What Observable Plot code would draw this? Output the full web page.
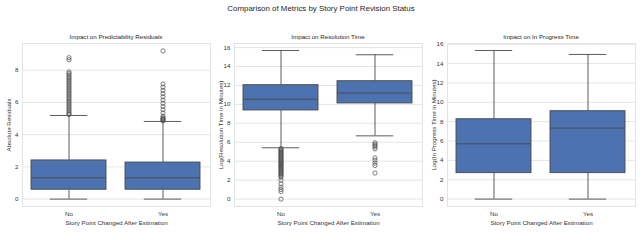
<!DOCTYPE html>
<html>
<head>
<meta charset="utf-8">
<script src="https://cdn.jsdelivr.net/npm/d3@7"></script>
<script src="https://cdn.jsdelivr.net/npm/@observablehq/plot@0.6"></script>
<style>
  html, body { margin: 0; padding: 0; background: #fff; }
  #wrap { position: relative; width: 642px; height: 240px; overflow: hidden; font-family: "Liberation Sans", Arial, sans-serif; color: #262626; }
  .title { position: absolute; top: 4px; left: 0; width: 642px; text-align: center; font-size: 7.9px; }
  .sub { position: absolute; top: 33px; text-align: center; font-size: 6.2px; }
  .panel { position: absolute; top: 0; }
</style>
</head>
<body>
<div id="wrap">
  <div class="title">Comparison of Metrics by Story Point Revision Status</div>
</div>
<script>
const categories = ["No", "Yes"];
const panelTitles = ["Impact on Predictability Residuals", "Impact on Resolution Time", "Impact on In Progress Time"];
const yLabels = ["Absolute Residuals", "Log(Resolution Time in Minutes)", "Log(In Progress Time in Minutes)"];
const xLabel = "Story Point Changed After Estimation";

// Panel 1: Predictability residuals
const p1Low = [0, 0];
const p1Q1 = [0.58, 0.58];
const p1Median = [1.32, 1.32];
const p1Q3 = [2.40, 2.27];
const p1High = [5.19, 4.82];
const p1OutNo = [5.25, 5.3, 5.4, 5.5, 5.6, 5.7, 5.8, 5.9, 6.0, 6.1, 6.2, 6.3, 6.4, 6.5, 6.6, 6.7, 6.8, 6.9, 7.0, 7.1, 7.2, 7.3, 7.4, 7.5, 7.6, 7.7, 7.8, 7.9, 8.65, 8.78];
const p1OutYes = [4.85, 4.9, 4.95, 5.0, 5.05, 5.15, 5.35, 5.55, 5.75, 5.95, 6.15, 6.35, 6.55, 6.75, 6.95, 7.15, 9.2];

// Panel 2: Resolution time
const p2Low = [5.42, 6.68];
const p2Q1 = [9.36, 10.1];
const p2Median = [10.55, 11.2];
const p2Q3 = [12.03, 12.45];
const p2High = [15.69, 15.24];
const p2OutNo = [5.35, 5.25, 5.15, 5.05, 4.95, 4.85, 4.75, 4.65, 4.55, 4.45, 4.35, 4.25, 4.15, 4.05, 3.95, 3.85, 3.75, 3.65, 3.55, 3.45, 3.35, 3.25, 3.15, 3.05, 2.95, 2.85, 2.75, 2.65, 2.55, 2.45, 2.3, 2.0, 1.6, 1.26, 1.01, 0.8, 0.0];
const p2OutYes = [5.95, 5.8, 5.65, 5.5, 5.3, 4.35, 4.1, 3.8, 3.55, 2.75];

// Panel 3: In progress time
const p3Low = [0, 0];
const p3Q1 = [2.68, 2.68];
const p3Median = [5.71, 7.33];
const p3Q3 = [8.25, 9.08];
const p3High = [15.35, 14.94];
const p3OutNo = [];
const p3OutYes = [];

const yDomains = [[-0.46, 9.66], [-0.78, 16.43], [-0.765, 16.07]];
const yTicks = [[0, 2, 4, 6, 8], [0, 2, 4, 6, 8, 10, 12, 14, 16], [0, 2, 4, 6, 8, 10, 12, 14, 16]];

const panels = [
  {low: p1Low, q1: p1Q1, med: p1Median, q3: p1Q3, high: p1High, out: [p1OutNo, p1OutYes]},
  {low: p2Low, q1: p2Q1, med: p2Median, q3: p2Q3, high: p2High, out: [p2OutNo, p2OutYes]},
  {low: p3Low, q1: p3Q1, med: p3Median, q3: p3Q3, high: p3High, out: [p3OutNo, p3OutYes]}
];

const FILL = "#4c72b0";
const LINE = "#4a4a4a";
const GRID = "#dedede";
const lefts = [0, 212, 425];
const wrap = document.getElementById("wrap");

panels.forEach((p, i) => {
  const stats = categories.map((c, j) => ({cat: c, low: p.low[j], q1: p.q1[j], med: p.med[j], q3: p.q3[j], high: p.high[j]}));
  const outliers = categories.flatMap((c, j) => p.out[j].map(v => ({cat: c, v})));
  const W = 213, ML = 22, MR = 3;
  const bw = (W - ML - MR) / 2 * 0.8;
  const capInset = bw * 0.25;
  const chart = Plot.plot({
    width: W,
    height: 240,
    marginTop: 43,
    marginBottom: 34,
    marginLeft: ML,
    marginRight: MR,
    style: {fontFamily: "Liberation Sans, Arial, sans-serif", fontSize: "6.2px", color: "#262626", background: "transparent"},
    x: {type: "band", domain: categories, paddingInner: 0.2, paddingOuter: 0.1},
    y: {domain: yDomains[i]},
    marks: [
      Plot.gridY(yTicks[i], {stroke: GRID, strokeOpacity: 1, strokeWidth: 0.8}),
      Plot.frame({stroke: GRID, strokeWidth: 0.8}),
      Plot.axisY(yTicks[i], {tickSize: 0, tickPadding: 4, label: yLabels[i], labelAnchor: "center", labelArrow: "none", labelOffset: 16, fill: "#333"}),
      Plot.axisX({tickSize: 0, tickPadding: 5, label: xLabel, labelAnchor: "center", labelArrow: "none", labelOffset: 18, fill: "#333"}),
      Plot.ruleX(stats, {x: "cat", y1: "low", y2: "q1", stroke: LINE, strokeWidth: 0.9}),
      Plot.ruleX(stats, {x: "cat", y1: "q3", y2: "high", stroke: LINE, strokeWidth: 0.9}),
      Plot.tickY(stats, {x: "cat", y: "low", stroke: LINE, strokeWidth: 0.9, insetLeft: capInset, insetRight: capInset}),
      Plot.tickY(stats, {x: "cat", y: "high", stroke: LINE, strokeWidth: 0.9, insetLeft: capInset, insetRight: capInset}),
      Plot.barY(stats, {x: "cat", y1: "q1", y2: "q3", fill: FILL, stroke: LINE, strokeWidth: 0.9}),
      Plot.tickY(stats, {x: "cat", y: "med", stroke: LINE, strokeWidth: 0.9}),
      Plot.dot(outliers, {x: "cat", y: "v", r: 2.1, stroke: LINE, strokeWidth: 0.7, fill: "none"})
    ]
  });
  const holder = document.createElement("div");
  holder.className = "panel";
  holder.style.left = lefts[i] + "px";
  holder.appendChild(chart);
  wrap.appendChild(holder);
  const t = document.createElement("div");
  t.className = "sub";
  t.style.left = (lefts[i] + ML) + "px";
  t.style.width = (W - ML - MR) + "px";
  t.textContent = panelTitles[i];
  wrap.appendChild(t);
});
</script>
</body>
</html>
